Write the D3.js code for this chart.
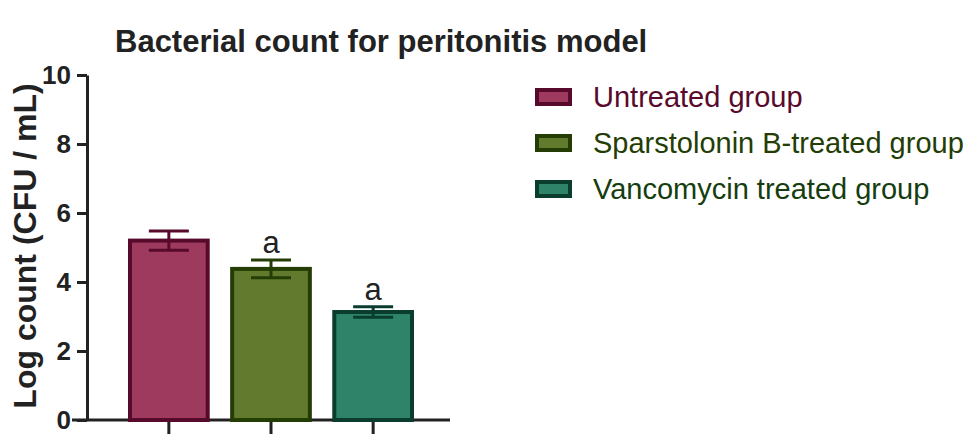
<!DOCTYPE html>
<html>
<head>
<meta charset="utf-8">
<script src="https://cdn.jsdelivr.net/npm/d3@7"></script>
<style>
  body { margin: 0; background: #fff; }
  text { font-family: Arial, "Liberation Sans", sans-serif; }
</style>
</head>
<body>
<div class="chart"></div>
<script>
// Data
var groups = ["Untreated group", "Sparstolonin B-treated group", "Vancomycin treated group"];
var means = [5.2, 4.38, 3.13];
var errors = [0.28, 0.26, 0.15];
var marks = ["", "a", "a"];
var yTicks = [0, 2, 4, 6, 8, 10];

var fills = ["#9e3a5e", "#617a2e", "#2e8369"];
var strokes = ["#580a2c", "#233d05", "#0a3d2e"];
var textColors = ["#580a2c", "#233d05", "#153d10"];

var w = 969, h = 438;

var svg = d3.select(".chart")
    .append("svg")
    .attr("width", w)
    .attr("height", h);

var x = d3.scaleBand()
    .domain(groups)
    .range([128, 414])
    .paddingInner(0.2)
    .paddingOuter(0.0);

var y = d3.scaleLinear()
    .domain([0, 10])
    .range([420, 75]);

// Title
svg.append("text")
    .attr("x", 115)
    .attr("y", 52)
    .attr("font-size", 31)
    .attr("font-weight", "bold")
    .attr("fill", "#222")
    .text("Bacterial count for peritonitis model");

// Y axis label
svg.append("text")
    .attr("transform", "translate(36, 246) rotate(-90)")
    .attr("text-anchor", "middle")
    .attr("font-size", 32)
    .attr("font-weight", "bold")
    .attr("fill", "#222")
    .text("Log count (CFU / mL)");

// Y axis
var yAxis = svg.append("g")
    .attr("transform", "translate(87, 0)")
    .call(d3.axisLeft(y).tickValues(yTicks).tickSize(10).tickSizeOuter(0).tickPadding(6));
yAxis.select(".domain").attr("stroke", "#222").attr("stroke-width", 3);
yAxis.selectAll(".tick line").attr("stroke", "#222").attr("stroke-width", 3);
yAxis.selectAll(".tick text").attr("font-size", 26).attr("font-weight", "bold").attr("fill", "#222").attr("font-family", "Arial, 'Liberation Sans', sans-serif");

// X axis
var xAxis = svg.append("g")
    .attr("transform", "translate(0, " + y(0) + ")")
    .call(d3.axisBottom(x).tickSize(14).tickSizeOuter(0).tickFormat(""));
xAxis.select(".domain").attr("d", "M72,0H450").attr("stroke", "#222").attr("stroke-width", 3);
xAxis.selectAll(".tick line").attr("stroke", "#222").attr("stroke-width", 3);

// Error bars (behind bars)
var err = svg.selectAll(".err")
    .data(groups)
    .enter()
    .append("g")
    .attr("class", "err")
    .attr("stroke", (d, i) => strokes[i])
    .attr("stroke-width", 3);
err.append("line")
    .attr("x1", d => x(d) + x.bandwidth() / 2)
    .attr("x2", d => x(d) + x.bandwidth() / 2)
    .attr("y1", (d, i) => y(means[i] + errors[i]))
    .attr("y2", (d, i) => y(means[i] - errors[i]));
err.append("line")
    .attr("x1", d => x(d) + x.bandwidth() / 2 - 20)
    .attr("x2", d => x(d) + x.bandwidth() / 2 + 20)
    .attr("y1", (d, i) => y(means[i] + errors[i]))
    .attr("y2", (d, i) => y(means[i] + errors[i]));

// Bars
svg.selectAll(".bar")
    .data(groups)
    .enter()
    .append("rect")
    .attr("class", "bar")
    .attr("x", d => x(d) + 2)
    .attr("width", x.bandwidth() - 4)
    .attr("y", (d, i) => y(means[i]))
    .attr("height", (d, i) => y(0) - y(means[i]))
    .attr("fill", (d, i) => fills[i])
    .attr("stroke", (d, i) => strokes[i])
    .attr("stroke-width", 4);

// Lower error half drawn on top of bars
svg.selectAll(".lowcap")
    .data(groups)
    .enter()
    .append("line")
    .attr("stroke", (d, i) => strokes[i])
    .attr("stroke-width", 3)
    .attr("x1", d => x(d) + x.bandwidth() / 2 - 20)
    .attr("x2", d => x(d) + x.bandwidth() / 2 + 20)
    .attr("y1", (d, i) => y(means[i] - errors[i]))
    .attr("y2", (d, i) => y(means[i] - errors[i]));
svg.selectAll(".lowstem")
    .data(groups)
    .enter()
    .append("line")
    .attr("stroke", (d, i) => strokes[i])
    .attr("stroke-width", 3)
    .attr("x1", d => x(d) + x.bandwidth() / 2)
    .attr("x2", d => x(d) + x.bandwidth() / 2)
    .attr("y1", (d, i) => y(means[i]))
    .attr("y2", (d, i) => y(means[i] - errors[i]));

// Significance letters
svg.selectAll(".mark")
    .data(groups)
    .enter()
    .append("text")
    .attr("x", d => x(d) + x.bandwidth() / 2)
    .attr("y", (d, i) => y(means[i] + errors[i]) - 7)
    .attr("text-anchor", "middle")
    .attr("font-size", 31)
    .attr("fill", "#222")
    .text((d, i) => marks[i]);

// Legend
var legend = svg.selectAll(".legend")
    .data(groups)
    .enter()
    .append("g")
    .attr("class", "legend")
    .attr("transform", (d, i) => "translate(537, " + (90 + i * 46) + ")");
legend.append("rect")
    .attr("width", 33)
    .attr("height", 14)
    .attr("fill", (d, i) => fills[i])
    .attr("stroke", (d, i) => strokes[i])
    .attr("stroke-width", 4);
legend.append("text")
    .attr("x", 56)
    .attr("y", 17)
    .attr("font-size", 29)
    .attr("fill", (d, i) => textColors[i])
    .text(d => d);
</script>
</body>
</html>
